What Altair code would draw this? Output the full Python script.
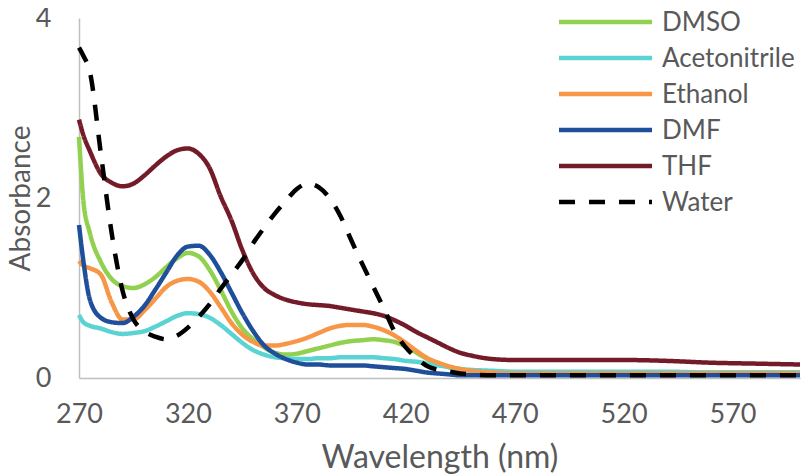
import altair as alt
import pandas as pd

series_names = ["DMSO", "Acetonitrile", "Ethanol", "DMF", "THF", "Water"]
series_colors = ["#92D050", "#5CD3D3", "#F79646", "#1F4E9A", "#741B2A", "#000000"]

wavelength = [270, 272, 275, 280, 285, 290, 295, 300, 305, 310, 315, 320, 325, 330, 335,
              340, 345, 350, 355, 360, 365, 370, 375, 380, 385, 390, 395, 400, 405, 410,
              415, 420, 425, 430, 435, 440, 445, 450, 460, 470, 480, 500, 520, 540, 560,
              580, 601]

dmso = [2.68, 1.97, 1.61, 1.29, 1.10, 1.02, 1.00, 1.04, 1.12, 1.23, 1.33, 1.39, 1.35, 1.20, 0.98,
        0.74, 0.55, 0.43, 0.34, 0.28, 0.26, 0.27, 0.30, 0.33, 0.36, 0.39, 0.41, 0.42, 0.43, 0.42,
        0.40, 0.35, 0.28, 0.21, 0.16, 0.12, 0.10, 0.08, 0.07, 0.06, 0.06, 0.06, 0.06, 0.06, 0.06,
        0.06, 0.06]

acetonitrile = [0.70, 0.62, 0.58, 0.55, 0.51, 0.49, 0.50, 0.52, 0.57, 0.63, 0.69, 0.72, 0.71, 0.67, 0.59,
                0.49, 0.39, 0.31, 0.26, 0.23, 0.22, 0.21, 0.21, 0.22, 0.22, 0.23, 0.23, 0.23, 0.23, 0.22,
                0.21, 0.19, 0.18, 0.16, 0.14, 0.12, 0.10, 0.09, 0.08, 0.07, 0.07, 0.07, 0.07, 0.07, 0.06,
                0.06, 0.06]

ethanol = [1.30, 1.25, 1.22, 1.15, 0.84, 0.65, 0.65, 0.75, 0.88, 1.01, 1.08, 1.10, 1.07, 0.96, 0.79,
           0.61, 0.48, 0.40, 0.36, 0.36, 0.38, 0.41, 0.45, 0.50, 0.55, 0.58, 0.59, 0.59, 0.57, 0.53,
           0.47, 0.39, 0.30, 0.22, 0.17, 0.13, 0.10, 0.08, 0.06, 0.05, 0.05, 0.05, 0.05, 0.05, 0.05,
           0.05, 0.05]

dmf = [1.70, 1.30, 0.87, 0.67, 0.62, 0.61, 0.68, 0.80, 0.98, 1.17, 1.36, 1.46, 1.47, 1.37, 1.18,
       0.95, 0.72, 0.52, 0.36, 0.27, 0.21, 0.17, 0.15, 0.15, 0.14, 0.14, 0.14, 0.14, 0.13, 0.12,
       0.11, 0.10, 0.08, 0.06, 0.05, 0.04, 0.03, 0.03, 0.03, 0.03, 0.03, 0.03, 0.03, 0.03, 0.03,
       0.03, 0.03]

thf = [2.87, 2.70, 2.52, 2.27, 2.17, 2.13, 2.16, 2.25, 2.36, 2.46, 2.53, 2.55, 2.49, 2.33, 2.02,
       1.75, 1.42, 1.16, 1.00, 0.92, 0.87, 0.84, 0.82, 0.81, 0.80, 0.78, 0.76, 0.74, 0.72, 0.69,
       0.64, 0.58, 0.51, 0.45, 0.39, 0.33, 0.28, 0.25, 0.21, 0.20, 0.20, 0.20, 0.20, 0.19, 0.17,
       0.16, 0.15]

water = [3.67, 3.58, 3.40, 2.50, 1.61, 0.97, 0.65, 0.52, 0.46, 0.43, 0.47, 0.56, 0.68, 0.82, 0.99,
         1.15, 1.31, 1.50, 1.67, 1.83, 1.97, 2.10, 2.16, 2.12, 2.00, 1.80, 1.53, 1.27, 1.02, 0.77,
         0.51, 0.34, 0.22, 0.13, 0.09, 0.07, 0.05, 0.04, 0.03, 0.03, 0.03, 0.03, 0.03, 0.03, 0.03,
         0.03, 0.03]

x_ticks = [270, 320, 370, 420, 470, 520, 570]
y_ticks = [0, 2, 4]

values = {"DMSO": dmso, "Acetonitrile": acetonitrile, "Ethanol": ethanol,
          "DMF": dmf, "THF": thf, "Water": water}

rows = []
for order, name in enumerate(series_names):
    for w, a in zip(wavelength, values[name]):
        rows.append({"series": name, "order": order, "wavelength": w, "absorbance": a})
df = pd.DataFrame(rows)
legend_df = pd.DataFrame({"series": series_names, "order": list(range(len(series_names)))})

FONT = "Lato"
GREY = "#595959"

dash_range = [[1, 0]] * 5 + [[16, 14]]
color_scale = alt.Scale(domain=series_names, range=series_colors)
dash_scale = alt.Scale(domain=series_names, range=dash_range)

lines = alt.Chart(df).mark_line(strokeWidth=4.5, interpolate="monotone").encode(
    x=alt.X("wavelength:Q",
            scale=alt.Scale(domain=[270, 601], nice=False, zero=False),
            axis=alt.Axis(values=x_ticks, title="Wavelength (nm)", grid=False, ticks=False,
                          tickSize=0, labelPadding=23, titlePadding=15,
                          labelFontSize=27, titleFontSize=32, labelFont=FONT, titleFont=FONT,
                          labelColor=GREY, titleColor=GREY, titleFontWeight="normal",
                          domainColor="#BFBFBF", domainWidth=1.5, labelFlush=False)),
    y=alt.Y("absorbance:Q",
            scale=alt.Scale(domain=[0, 4], nice=False),
            axis=alt.Axis(values=y_ticks, title="Absorbance", grid=False, ticks=False,
                          tickSize=0, labelPadding=28, titlePadding=0,
                          labelFontSize=27, titleFontSize=28, labelFont=FONT, titleFont=FONT,
                          labelColor=GREY, titleColor=GREY, titleFontWeight="normal",
                          domainColor="#BFBFBF", domainWidth=1.5, labelFlush=False)),
    color=alt.Color("series:N", scale=color_scale, legend=None),
    strokeDash=alt.StrokeDash("series:N", scale=dash_scale, legend=None),
    detail="series:N",
    order=alt.Order("order:Q"),
)

leg_y = alt.Y("series:N", scale=alt.Scale(domain=series_names, type="point", range=[4, 184], padding=0),
              axis=None)

leg_rules = alt.Chart(legend_df).mark_rule(strokeWidth=4.5).encode(
    x=alt.value(480), x2=alt.value(573),
    y=leg_y,
    color=alt.Color("series:N", scale=color_scale, legend=None),
    strokeDash=alt.StrokeDash("series:N", scale=dash_scale, legend=None),
)

leg_text = alt.Chart(legend_df).mark_text(align="left", baseline="middle", fontSize=26,
                                          font=FONT, color=GREY, dy=1).encode(
    x=alt.value(583),
    y=leg_y,
    text="series:N",
)

chart = alt.layer(lines, leg_rules, leg_text).resolve_scale(y="independent").properties(
    width=721, height=360,
    autosize=alt.AutoSizeParams(type="none"),
    padding={"left": 71, "top": 10, "right": 2, "bottom": 100},
    background="white",
).configure_view(stroke=None)

chart.save("out.html", embed_options={"renderer": "svg", "actions": False})
